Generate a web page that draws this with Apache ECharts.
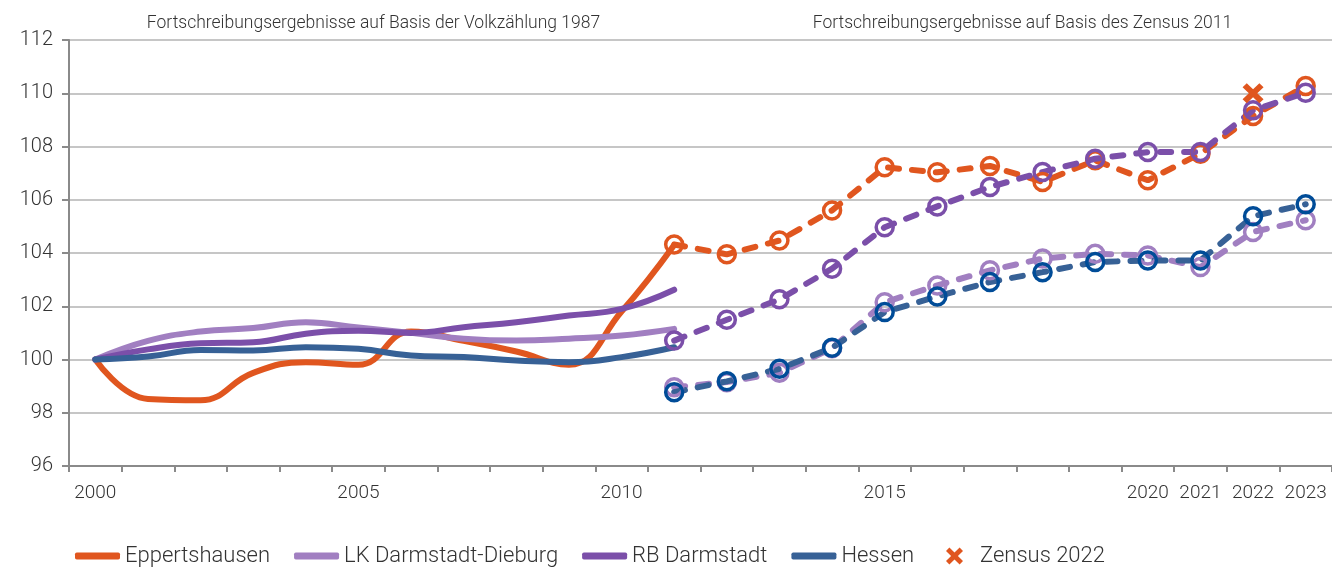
<!DOCTYPE html>
<html>
<head>
<meta charset="utf-8">
<script src="https://cdn.jsdelivr.net/npm/echarts@6/dist/echarts.min.js"></script>
<style>
html,body{margin:0;padding:0;background:#fff;}
#c{width:1332px;height:570px;}
</style>
</head>
<body>
<div id="c"></div>
<script>
var years = ['2000','2001','2002','2003','2004','2005','2006','2007','2008','2009','2010','2011',
             '2012','2013','2014','2015','2016','2017','2018','2019','2020','2021','2022','2023'];
var shownYearLabels = ['2000','2005','2010','2015','2020','2021','2022','2023'];

// Fortschreibung auf Basis der Volkszählung 1987 (2000-2011)
var eppOld = [100, 98.52, 98.47, 99.5, 99.9, 99.8, 101.05, 100.7, 100.3, 99.8, 101.8, 104.3];
var lkOld  = [100, 100.7, 101.05, 101.18, 101.4, 101.2, 101.0, 100.78, 100.71, 100.78, 100.9, 101.15];
var rbOld  = [100, 100.38, 100.61, 100.65, 100.97, 101.08, 101.0, 101.21, 101.4, 101.65, 101.9, 102.62];
var hesOld = [100, 100.11, 100.36, 100.34, 100.46, 100.4, 100.15, 100.09, 99.96, 99.9, 100.09, 100.46];

// Fortschreibung auf Basis des Zensus 2011 (2011-2023)
var eppNew = [104.32, 103.95, 104.47, 105.6, 107.22, 107.03, 107.27, 106.67, 107.48, 106.73, 107.73, 109.15, 110.27];
var lkNew  = [98.96, 99.15, 99.5, 100.42, 102.15, 102.78, 103.35, 103.79, 103.97, 103.91, 103.47, 104.79, 105.23];
var rbNew  = [100.71, 101.49, 102.26, 103.41, 104.97, 105.75, 106.48, 107.04, 107.54, 107.79, 107.79, 109.36, 110.02];
var hesNew = [98.77, 99.18, 99.65, 100.44, 101.78, 102.37, 102.91, 103.28, 103.66, 103.72, 103.72, 105.38, 105.83];

// Zensus 2022
var zensusYear = '2022';
var zensusValue = 110.0;

var names = ['Eppertshausen', 'LK Darmstadt-Dieburg', 'RB Darmstadt', 'Hessen'];
var colors = ['#E0561F', '#A17FC1', '#7B4FA9', '#376196'];
var markerColors = ['#E0561F', '#A17FC1', '#7B4FA9', '#004C98'];
var FONT = "Roboto, 'Liberation Sans', sans-serif";
var FW = 300;
var TXT = '#333333';

function oldSeries(vals) {
  return years.map(function (y, i) { return i < vals.length ? vals[i] : null; });
}
function newSeries(vals) {
  var start = years.indexOf('2011');
  return years.map(function (y, i) { return (i >= start && i - start < vals.length) ? vals[i - start] : null; });
}

var oldData = [eppOld, lkOld, rbOld, hesOld];
var newData = [eppNew, lkNew, rbNew, hesNew];
var series = [];
oldData.forEach(function (vals, k) {
  series.push({
    name: names[k], type: 'line', data: oldSeries(vals), smooth: 0.45,
    showSymbol: false, symbol: 'none', connectNulls: false,
    itemStyle: { color: colors[k] },
    lineStyle: { color: colors[k], width: 6, cap: 'round', join: 'round' },
    z: 2
  });
});
newData.forEach(function (vals, k) {
  series.push({
    name: names[k] + ' (Zensus 2011)', type: 'line', data: newSeries(vals),
    symbol: 'circle', symbolSize: 17, showSymbol: true, connectNulls: false,
    itemStyle: { color: 'rgba(255,255,255,0)', borderColor: markerColors[k], borderWidth: 3.5 },
    lineStyle: { color: colors[k], width: 6, type: [11, 13], cap: 'round' },
    z: 3
  });
});
var xPath = 'path://M4,0 L10,6 L16,0 L20,4 L14,10 L20,16 L16,20 L10,14 L4,20 L0,16 L6,10 L0,4 Z';
series.push({
  name: 'Zensus 2022', type: 'scatter',
  data: [[zensusYear, zensusValue]],
  symbol: xPath, symbolSize: [21, 20],
  itemStyle: { color: '#E0561F', opacity: 1 },
  z: 5
});

var chart = echarts.init(document.getElementById('c'), null, { renderer: 'canvas' });
chart.setOption({
  animation: false,
  backgroundColor: '#fff',
  textStyle: { fontFamily: FONT, fontWeight: FW },
  grid: { left: 69, right: 0, top: 40, bottom: 104, containLabel: false },
  xAxis: {
    type: 'category', data: years, boundaryGap: true,
    axisLine: { lineStyle: { color: '#8a8a8a', width: 2 } },
    axisTick: { show: true, interval: 0, length: 6, lineStyle: { color: '#8a8a8a', width: 2 } },
    axisLabel: {
      interval: function (idx, val) { return shownYearLabels.indexOf(val) >= 0; },
      margin: 18, fontSize: 19, color: TXT, fontFamily: FONT, fontWeight: FW
    },
    splitLine: { show: false }
  },
  yAxis: {
    type: 'value', min: 96, max: 112, interval: 2,
    axisLine: { show: true, lineStyle: { color: '#8a8a8a', width: 2 } },
    axisTick: { show: true, length: 7, lineStyle: { color: '#8a8a8a', width: 2 } },
    axisLabel: { margin: 16, fontSize: 20, color: TXT, fontFamily: FONT, fontWeight: FW },
    splitLine: { show: true, lineStyle: { color: '#b3b3b3', width: 1.5 } }
  },
  legend: [{
    left: 75, top: 543, padding: 0, itemWidth: 45, itemHeight: 7, itemGap: 24,
    data: names.map(function (n) { return { name: n, icon: 'roundRect' }; }),
    textStyle: { fontSize: 22, color: TXT, fontFamily: FONT, fontWeight: FW, lineHeight: 26 },
    selectedMode: false
  }, {
    left: 946, top: 543, padding: 0, itemWidth: 29, itemHeight: 17,
    data: [{ name: 'Zensus 2022', icon: xPath, itemStyle: { opacity: 1 } }],
    textStyle: { fontSize: 22, color: TXT, fontFamily: FONT, fontWeight: FW, lineHeight: 26, padding: [0, 0, 0, 6] },
    selectedMode: false
  }],
  graphic: [{
    type: 'text', x: 373.5, y: 24,
    style: { text: 'Fortschreibungsergebnisse auf Basis der Volkzählung 1987', font: FW + ' 17.5px ' + FONT,
      fill: TXT, align: 'center', verticalAlign: 'middle', textAlign: 'center', textVerticalAlign: 'middle' }
  }, {
    type: 'text', x: 1022.5, y: 24,
    style: { text: 'Fortschreibungsergebnisse auf Basis des Zensus 2011', font: FW + ' 17.5px ' + FONT,
      fill: TXT, align: 'center', verticalAlign: 'middle', textAlign: 'center', textVerticalAlign: 'middle' }
  }],
  series: series
});
</script>
</body>
</html>
